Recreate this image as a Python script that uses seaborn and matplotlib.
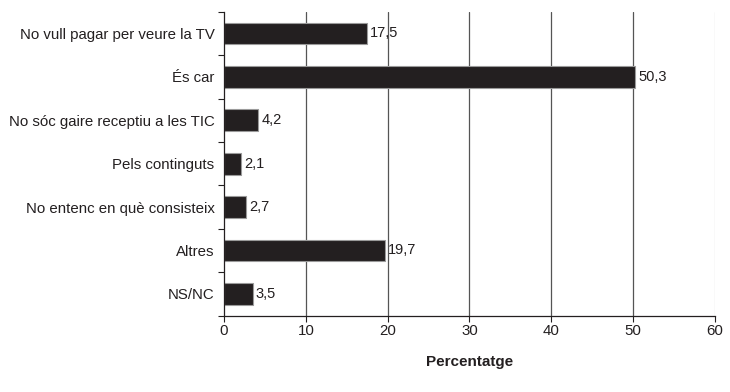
import matplotlib
matplotlib.use("Agg")
import matplotlib.pyplot as plt
import seaborn as sns
import pandas as pd
import numpy as np

categories = [
    "No vull pagar per veure la TV",
    "És car",
    "No sóc gaire receptiu a les TIC",
    "Pels continguts",
    "No entenc en què consisteix",
    "Altres",
    "NS/NC",
]
values = [17.5, 50.3, 4.2, 2.1, 2.7, 19.7, 3.5]
x_ticks = [0, 10, 20, 30, 40, 50, 60]

df = pd.DataFrame({"motiu": categories, "pct": values})

sns.set_theme(style="white")
plt.rcParams["font.family"] = ["Liberation Sans", "DejaVu Sans"]

fig = plt.figure(figsize=(7.3, 3.92), dpi=100)
ax = fig.add_axes([0.307, 0.195, 0.672, 0.775])

sns.barplot(data=df, y="motiu", x="pct", orient="h", color="#231f20",
            width=0.5, edgecolor="#9a9a9a", linewidth=0.8, saturation=1, ax=ax)

# vertical gridlines
for t in x_ticks[1:]:
    ax.axvline(t, color="#d5d5d5" if t == 60 else "#555555", linewidth=0.9, zorder=0)

for i, v in enumerate(values):
    ax.text(v + 0.35, i, f"{v:.1f}".replace(".", ","), va="center", ha="left",
            fontsize=10.5, color="#231f20")

ax.set_xlim(0, 60)
ax.set_ylim(len(categories) - 0.5, -0.5)
ax.set_xticks(x_ticks)
ax.set_yticks(np.arange(-0.5, len(categories), 1.0), minor=True)
ax.tick_params(axis="y", which="major", length=0, labelsize=10.8, colors="#231f20", pad=7)
ax.tick_params(axis="y", which="minor", length=4, width=0.8, color="#231f20", left=True)
ax.tick_params(axis="x", which="major", length=4, width=0.8, color="#231f20",
               labelsize=10.8, labelcolor="#231f20", bottom=True, pad=2)

for s in ["top", "right"]:
    ax.spines[s].set_visible(False)
for s in ["left", "bottom"]:
    ax.spines[s].set_color("#231f20")
    ax.spines[s].set_linewidth(0.9)

ax.set_ylabel("")
ax.set_xlabel("Percentatge", fontsize=11, fontweight="bold", color="#231f20", labelpad=12)

fig.savefig("out.png", dpi=100)
